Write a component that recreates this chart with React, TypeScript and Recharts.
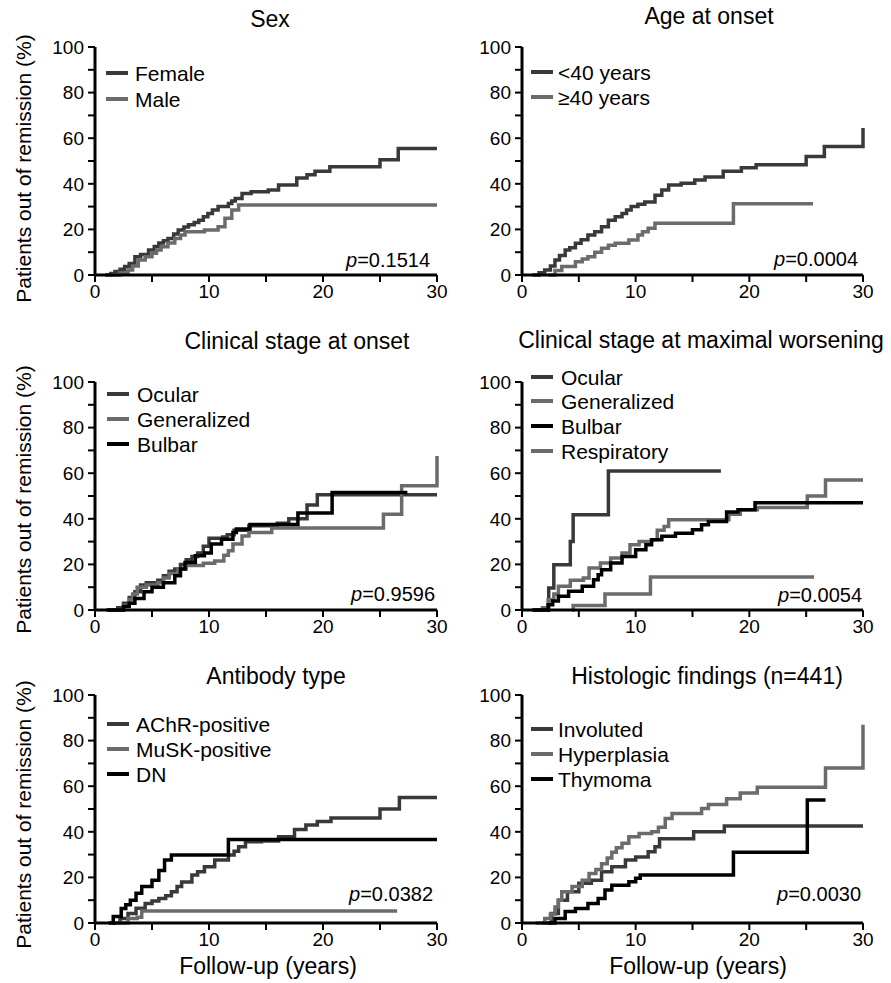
import React from 'react';
import { LineChart, Line, XAxis, YAxis } from 'recharts';

type Pt = [number, number];

const xTicks = [0, 5, 10, 15, 20, 25, 30];
const yTicks = [0, 10, 20, 30, 40, 50, 60, 70, 80, 90, 100];

// [years, % out of remission]
const female: Pt[] = [[0.9, 0], [1.4, 0.7], [1.75, 1.5], [2.2, 2.5], [2.6, 3.7], [3.0, 5], [3.5, 8], [4.0, 9], [4.7, 11], [5.2, 12.5], [5.6, 14], [6.0, 15], [6.4, 16], [6.9, 18], [7.3, 19.7], [7.8, 21], [8.2, 22], [8.7, 23], [9.1, 24], [9.5, 25.5], [9.9, 27], [10.3, 28.5], [10.8, 30], [11.7, 31.4], [12.0, 32.5], [12.3, 33.6], [12.9, 35.8], [13.7, 36.5], [15.2, 37.3], [16.1, 39.5], [17.7, 42.5], [18.6, 44], [19.3, 45.5], [20.6, 47.5], [25, 50.6], [26.6, 55.5], [30, 55.5]];
const male: Pt[] = [[1.5, 0], [2.2, 1], [2.9, 2.2], [3.3, 4], [3.8, 6.6], [4.4, 8], [5, 9.5], [5.4, 11], [5.8, 12.4], [6.4, 14], [7, 16], [7.5, 17.5], [7.9, 19], [9.6, 19.7], [10.8, 21.2], [11.4, 24.9], [12, 28.5], [12.6, 30.7], [30, 30.7]];

const under40: Pt[] = [[0.9, 0], [1.5, 1], [2, 2.2], [2.5, 4], [2.9, 6.6], [3.3, 8.5], [3.8, 11], [4.2, 12], [4.7, 13.9], [5.2, 15.5], [5.8, 17.5], [6.4, 19], [7, 21.2], [7.6, 24], [8.2, 25.5], [8.8, 27], [9.2, 28.5], [9.6, 30], [10.2, 31], [10.8, 32], [11.7, 35], [12.3, 37.3], [12.9, 39.5], [14, 40.2], [15.2, 41.7], [16.1, 43], [17.7, 45.5], [19.3, 47], [20.6, 48.4], [25, 52], [26.6, 56.4], [30, 64.5]];
const over40: Pt[] = [[2.3, 0], [2.9, 2], [3.5, 3.7], [4.7, 5.8], [5.3, 7], [5.8, 8], [6.4, 10], [7, 11.7], [7.6, 13], [8.2, 13.9], [9.4, 15.4], [10.2, 17.5], [10.6, 19], [11.1, 20.5], [11.7, 22.7], [18.6, 31.3], [25.6, 31.3]];

const onsetOcular: Pt[] = [[1.2, 0], [2, 1], [2.5, 3], [3, 5.5], [3.5, 8], [4, 11], [4.5, 12], [5.5, 13], [6, 15], [6.5, 17], [7, 18], [7.5, 20], [8, 22], [8.5, 23.5], [9, 25], [9.5, 28], [10, 31.5], [11.2, 32], [11.6, 33], [12.2, 35], [13.5, 37], [16, 38], [17, 40], [18.6, 46], [19.5, 50.5], [30, 50.5]];
const onsetGeneralized: Pt[] = [[1.5, 0], [2.5, 2], [3, 4.5], [3.3, 7], [3.7, 10], [4.5, 11], [5.5, 12], [6, 14], [6.5, 16], [7.3, 18], [8, 19.5], [9.5, 20.5], [10.5, 21.5], [11.3, 24], [11.7, 26], [12.1, 29], [12.9, 32.5], [13.5, 34], [15.5, 36], [25.3, 42], [26.9, 54.5], [30, 67.5]];
const onsetBulbar: Pt[] = [[1, 0], [2.5, 1.5], [3, 3], [3.5, 5], [4.3, 8], [5, 10], [6, 12], [7, 15], [7.5, 18], [7.9, 20.8], [8.8, 23.8], [9.6, 25], [10.2, 29], [11.1, 31], [12.1, 34], [12.4, 35.5], [13.6, 37.5], [17.8, 42.5], [20.8, 51.5], [27.4, 51.5]];

const maxOcular: Pt[] = [[1, 0], [2.35, 9.6], [2.8, 19.9], [4.25, 30], [4.5, 41.8], [7.6, 61], [17.5, 61]];
const maxGeneralized: Pt[] = [[1.2, 0], [1.8, 1], [2.3, 4.5], [2.8, 7], [3.2, 10.4], [4.25, 13], [5.4, 14], [5.9, 18.4], [6.9, 20.6], [7.8, 22.8], [8.8, 25], [9.5, 28.6], [10.3, 30], [11.4, 30.8], [11.9, 35], [12.5, 36.6], [12.9, 39.6], [18.2, 42], [19.2, 44], [20.7, 45], [25.1, 50], [26.7, 57], [30, 57]];
const maxBulbar: Pt[] = [[0.9, 0], [2.3, 2.3], [2.7, 4], [3.2, 6], [4.1, 8.2], [5.3, 10.4], [6.3, 13.3], [6.7, 15.5], [7, 17.7], [7.8, 20.6], [8.8, 23.5], [10, 26.4], [10.9, 28.6], [11.4, 30.8], [12.3, 32.3], [13.5, 33.7], [15, 35.2], [15.8, 37.4], [16.4, 38.8], [18, 43], [19, 44], [20.5, 47], [30, 47]];
const maxRespiratory: Pt[] = [[4.4, 0], [4.5, 2], [7.3, 7], [11.3, 14.5], [25.7, 14.5]];

const achr: Pt[] = [[1.5, 0], [2.2, 2], [2.9, 4.2], [3.6, 6.5], [4.4, 8.6], [5, 9.7], [5.6, 10.8], [6.2, 12], [6.7, 13.7], [7.2, 16], [7.6, 18], [8.5, 21], [9, 22.5], [9.6, 24.7], [10.5, 27.6], [11.7, 29.8], [12.2, 31.5], [12.6, 33.4], [13.2, 35.6], [14.6, 36], [16.1, 37.8], [17.5, 41], [18.5, 43], [19.5, 44.5], [20.7, 46], [25, 50], [26.7, 55], [30, 55]];
const musk: Pt[] = [[1.75, 0], [2.9, 2], [3.7, 2.5], [4.1, 5.3], [26.5, 5.3]];
const dn: Pt[] = [[1.2, 0], [1.6, 2.8], [2.3, 6.4], [2.7, 8], [3.1, 10], [3.6, 13], [4.1, 16], [5, 18.8], [5.6, 23], [6.1, 27.6], [6.7, 29.8], [11.7, 36.6], [30, 36.6]];

const involuted: Pt[] = [[1.75, 0], [2.6, 4.2], [3.2, 10], [4, 13.7], [5, 17.4], [6.1, 18.8], [7, 22.5], [7.9, 24.7], [9.1, 27.6], [10, 29], [11.1, 31.2], [11.7, 33.4], [12.1, 37], [15.1, 40], [17.8, 42.5], [30, 42.5]];
const hyperplasia: Pt[] = [[1.2, 0], [2, 2], [2.5, 4], [2.9, 7], [3.2, 10], [3.5, 13.7], [4.4, 16], [5.3, 18.8], [5.9, 21.7], [6.5, 23.5], [7, 26], [7.5, 28.5], [7.9, 31], [8.3, 33], [8.8, 35], [9.4, 37.8], [10.3, 39.3], [11.4, 40], [12, 42], [12.6, 45.8], [13.2, 48], [15.8, 50.2], [16.4, 52], [18, 54.5], [19.2, 57], [20.7, 59.5], [26.7, 68], [30, 87]];
const thymoma: Pt[] = [[2.3, 0], [2.9, 2], [3.8, 5], [4.7, 6.4], [5.8, 8.6], [6.7, 10.8], [7.3, 14.5], [7.9, 16.6], [9.4, 18.1], [10, 19.6], [10.4, 21], [18.6, 31], [25.1, 54], [26.7, 54]];

const DARK = '#393939';
const MID = '#6b6b6b';
const BLACK = '#000000';
const FONT = '"Liberation Sans", Arial, Helvetica, sans-serif';

interface Series { name: string; pts: Pt[]; color: string }

interface PanelDef {
  title: string;
  titleX: number;
  titleY: number;
  left: number;
  top: number;
  width: number;
  height: number;
  margin: { top: number; right: number; bottom: number; left: number };
  series: Series[];
  legendLineX: number;
  legendTextX: number;
  legendY: number[];
  p: string;
  pRight: number;
  pY: number;
}

const LEFT_M = { left: 55, right: 23 };
const RIGHT_M = { left: 37, right: 28 };
const LEFT_W = 460;

const panels: PanelDef[] = [
  {
    title: 'Sex', titleX: 270, titleY: 19, left: 0, top: 0, width: LEFT_W, height: 320,
    margin: { top: 47, bottom: 15, ...LEFT_M },
    series: [{ name: 'Female', pts: female, color: DARK }, { name: 'Male', pts: male, color: MID }],
    legendLineX: 106, legendTextX: 135, legendY: [73, 99], p: '0.1514', pRight: 430, pY: 260,
  },
  {
    title: 'Age at onset', titleX: 709, titleY: 16, left: 445, top: 0, width: 446, height: 320,
    margin: { top: 47, bottom: 15, ...RIGHT_M },
    series: [{ name: '<40 years', pts: under40, color: DARK }, { name: '≥40 years', pts: over40, color: MID }],
    legendLineX: 531, legendTextX: 558, legendY: [72, 97], p: '0.0004', pRight: 858, pY: 259,
  },
  {
    title: 'Clinical stage at onset', titleX: 297, titleY: 341, left: 0, top: 320, width: LEFT_W, height: 330,
    margin: { top: 62, bottom: 10, ...LEFT_M },
    series: [
      { name: 'Ocular', pts: onsetOcular, color: DARK },
      { name: 'Generalized', pts: onsetGeneralized, color: MID },
      { name: 'Bulbar', pts: onsetBulbar, color: BLACK },
    ],
    legendLineX: 107, legendTextX: 137, legendY: [394, 419, 444], p: '0.9596', pRight: 435, pY: 594,
  },
  {
    title: 'Clinical stage at maximal worsening', titleX: 701, titleY: 340, left: 445, top: 320, width: 446, height: 330,
    margin: { top: 62, bottom: 10, ...RIGHT_M },
    series: [
      { name: 'Ocular', pts: maxOcular, color: DARK },
      { name: 'Generalized', pts: maxGeneralized, color: MID },
      { name: 'Bulbar', pts: maxBulbar, color: BLACK },
      { name: 'Respiratory', pts: maxRespiratory, color: MID },
    ],
    legendLineX: 531, legendTextX: 561, legendY: [377, 401, 426, 451], p: '0.0054', pRight: 862, pY: 595,
  },
  {
    title: 'Antibody type', titleX: 276, titleY: 676, left: 0, top: 650, width: LEFT_W, height: 333,
    margin: { top: 45, bottom: 30, ...LEFT_M },
    series: [
      { name: 'AChR-positive', pts: achr, color: DARK },
      { name: 'MuSK-positive', pts: musk, color: MID },
      { name: 'DN', pts: dn, color: BLACK },
    ],
    legendLineX: 107, legendTextX: 136, legendY: [724, 749, 774], p: '0.0382', pRight: 433, pY: 894,
  },
  {
    title: 'Histologic findings (n=441)', titleX: 707, titleY: 676, left: 445, top: 650, width: 446, height: 333,
    margin: { top: 45, bottom: 30, ...RIGHT_M },
    series: [
      { name: 'Involuted', pts: involuted, color: DARK },
      { name: 'Hyperplasia', pts: hyperplasia, color: MID },
      { name: 'Thymoma', pts: thymoma, color: BLACK },
    ],
    legendLineX: 531, legendTextX: 558, legendY: [729, 754, 779], p: '0.0030', pRight: 861, pY: 894,
  },
];

const textAt = (cy: number, size: number) => cy - size * 0.49;

function Panel({ d }: { d: PanelDef }) {
  return (
    <>
      <div style={{ position: 'absolute', left: d.left, top: d.top }}>
        <LineChart width={d.width} height={d.height} margin={d.margin}>
          <XAxis
            type="number"
            dataKey="t"
            domain={[0, 30]}
            ticks={xTicks}
            interval={0}
            height={30}
            tickSize={7}
            tickMargin={3}
            tickFormatter={(v: number) => (v % 10 === 0 ? String(v) : '')}
            axisLine={{ stroke: '#000', strokeWidth: 3 }}
            tickLine={{ stroke: '#000', strokeWidth: 2 }}
            tick={{ fill: '#000', fontSize: 19 }}
          />
          <YAxis
            type="number"
            domain={[0, 100]}
            ticks={yTicks}
            interval={0}
            width={40}
            tickSize={7}
            tickMargin={4}
            tickFormatter={(v: number) => (v % 20 === 0 ? String(v) : '')}
            axisLine={{ stroke: '#000', strokeWidth: 3 }}
            tickLine={{ stroke: '#000', strokeWidth: 2 }}
            tick={{ fill: '#000', fontSize: 19 }}
          />
          {d.series.map((s) => (
            <Line
              key={s.name}
              data={s.pts.map(([t, v]) => ({ t, v }))}
              dataKey="v"
              type="stepAfter"
              stroke={s.color}
              strokeWidth={3.5}
              dot={false}
              isAnimationActive={false}
            />
          ))}
        </LineChart>
      </div>
      <div style={{ position: 'absolute', left: d.titleX - 250, width: 500, top: textAt(d.titleY, 23), fontSize: 23, lineHeight: '23px', textAlign: 'center', whiteSpace: 'nowrap' }}>
        {d.title}
      </div>
      {d.series.map((s, i) => (
        <React.Fragment key={s.name}>
          <div style={{ position: 'absolute', left: d.legendLineX, top: d.legendY[i] - 2, width: 22, height: 4, background: s.color }} />
          <div style={{ position: 'absolute', left: d.legendTextX, top: textAt(d.legendY[i], 21), fontSize: 21, lineHeight: '21px', whiteSpace: 'nowrap' }}>
            {s.name}
          </div>
        </React.Fragment>
      ))}
      <div style={{ position: 'absolute', left: d.pRight - 200, width: 200, top: textAt(d.pY, 20), fontSize: 20, lineHeight: '20px', textAlign: 'right', whiteSpace: 'nowrap' }}>
        <i>p</i>={d.p}
      </div>
    </>
  );
}

const yLabelRows = [168, 499, 814];
const xLabelCenters = [268, 698];

export default function App() {
  return (
    <div style={{ position: 'absolute', left: 0, top: 0, width: 891, height: 983, background: '#fff', fontFamily: FONT, color: '#000' }}>
      {panels.map((d) => (
        <Panel key={d.title} d={d} />
      ))}
      {yLabelRows.map((cy) => (
        <div key={cy} style={{ position: 'absolute', left: 23 - 160, top: cy - 10.5, width: 320, height: 21, fontSize: 21, lineHeight: '21px', textAlign: 'center', transform: 'rotate(-90deg)', whiteSpace: 'nowrap' }}>
          Patients out of remission (%)
        </div>
      ))}
      {xLabelCenters.map((cx) => (
        <div key={cx} style={{ position: 'absolute', left: cx - 150, width: 300, top: textAt(966, 23), fontSize: 23, lineHeight: '23px', textAlign: 'center', whiteSpace: 'nowrap' }}>
          Follow-up (years)
        </div>
      ))}
    </div>
  );
}
